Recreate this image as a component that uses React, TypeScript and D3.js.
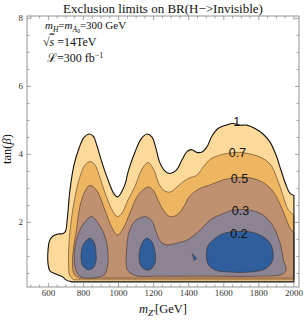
import React from "react";
import * as d3 from "d3";

const mzRange = [478, 2029];
const tanbRange = [0.1, 8.07];
const mzTicks = [600, 800, 1000, 1200, 1400, 1600, 1800, 2000];
const tanbTicks = [2, 4, 6, 8];
const mzEdge = 2000;

// BR = 1 contour, from the lower left round to the right edge
const br100 = [
  [735, 0.25], [700, 0.31], [683, 0.39], [643, 0.48], [609, 0.57], [598, 0.78], [598, 1.19],
  [606, 1.45], [626, 1.6], [655, 1.66], [683, 1.67], [698, 1.75], [706, 2.01], [723, 2.95],
  [746, 3.69], [775, 4.19], [803, 4.5], [832, 4.6], [857, 4.53], [877, 4.25], [906, 3.75],
  [940, 3.25], [974, 2.84], [994, 2.75], [1017, 2.89], [1043, 3.22], [1048, 3.36], [1065, 3.66],
  [1094, 4.07], [1128, 4.45], [1162, 4.6], [1191, 4.51], [1214, 4.16], [1236, 3.75], [1265, 3.51],
  [1293, 3.44], [1328, 3.53], [1362, 3.84], [1390, 4.08], [1416, 4.14], [1447, 4.06], [1476, 4.07],
  [1504, 4.22], [1533, 4.54], [1567, 4.76], [1613, 4.86], [1653, 4.91], [1693, 4.86], [1732, 4.86],
  [1778, 4.76], [1824, 4.6], [1864, 4.36], [1898, 3.98], [1926, 3.54], [1955, 3.1], [1977, 2.86],
  [2000, 2.79],
];
const br100Floor = 0.25;

const br070 = [
  [746, 0.31], [723, 0.42], [715, 0.75], [717, 1.34], [729, 2.01], [752, 2.75], [780, 3.34],
  [809, 3.69], [837, 3.79], [866, 3.69], [894, 3.31], [931, 2.76], [968, 2.32], [994, 2.17],
  [1020, 2.28], [1054, 2.66], [1094, 3.06], [1134, 3.57], [1168, 3.76], [1202, 3.54], [1228, 3.16],
  [1256, 2.95], [1293, 2.89], [1333, 3.04], [1370, 3.2], [1407, 3.31], [1447, 3.39], [1484, 3.64],
  [1521, 3.85], [1578, 3.98], [1636, 4.04], [1693, 4.06], [1750, 4.01], [1807, 3.92], [1864, 3.72],
  [1903, 3.31], [1938, 2.78], [1966, 2.39], [2000, 2.2],
];
const br070Floor = 0.31;

const br050 = [
  [775, 0.36], [746, 0.48], [737, 0.84], [746, 1.34], [760, 1.78], [780, 2.48], [809, 2.92],
  [837, 3.09], [874, 2.95], [923, 2.36], [963, 1.84], [994, 1.63], [1028, 1.84], [1065, 2.28],
  [1105, 2.75], [1145, 2.98], [1174, 3.04], [1202, 2.92], [1225, 2.66], [1256, 2.36], [1293, 2.17],
  [1333, 2.22], [1370, 2.45], [1407, 2.78], [1464, 3.0], [1521, 3.1], [1596, 3.25], [1673, 3.32],
  [1750, 3.31], [1818, 3.19], [1875, 2.95], [1915, 2.6], [1949, 2.19], [1977, 1.84], [2000, 1.69],
];
const br050Floor = 0.36;

// BR = 0.3, two closed islands
const br030a = [
  [847, 2.17], [885, 1.97], [923, 1.58], [940, 1.09], [937, 0.7], [917, 0.45], [837, 0.36],
  [780, 0.41], [752, 0.7], [752, 1.29], [780, 1.78], [809, 2.02],
];
const br030b = [
  [1051, 0.6], [1046, 1.19], [1060, 1.72], [1094, 2.04], [1151, 2.17], [1191, 2.04], [1214, 1.72],
  [1242, 1.42], [1276, 1.34], [1333, 1.39], [1390, 1.48], [1447, 1.69], [1487, 1.89], [1527, 2.09],
  [1584, 2.23], [1653, 2.36], [1750, 2.36], [1824, 2.22], [1881, 1.89], [1921, 1.39], [1941, 0.89],
  [1955, 0.6], [1932, 0.47], [1807, 0.42], [1464, 0.42], [1236, 0.42], [1094, 0.44],
];

// BR = 0.2 islands
const br020a = [
  [837, 1.54], [860, 1.42], [871, 1.13], [871, 0.84], [854, 0.66], [826, 0.61], [797, 0.72],
  [786, 0.95], [794, 1.28], [814, 1.45],
];
const br020b = [
  [1162, 1.54], [1191, 1.42], [1208, 1.13], [1208, 0.81], [1185, 0.63], [1157, 0.6], [1128, 0.72],
  [1117, 0.98], [1128, 1.31], [1145, 1.48],
];
const br020c = [
  [1539, 1.48], [1590, 1.66], [1664, 1.73], [1750, 1.72], [1818, 1.6], [1864, 1.39], [1881, 1.13],
  [1875, 0.84], [1835, 0.63], [1750, 0.54], [1636, 0.54], [1550, 0.6], [1510, 0.78], [1501, 1.07],
  [1510, 1.31],
];
const br020d = [[1419, 1.09], [1447, 0.94], [1430, 0.88]];

const contourLabels = [
  { text: "1", mz: 1674, tanb: 4.96 },
  { text: "0.7", mz: 1678, tanb: 4.04 },
  { text: "0.5", mz: 1690, tanb: 3.28 },
  { text: "0.3", mz: 1695, tanb: 2.34 },
  { text: "0.2", mz: 1687, tanb: 1.67 },
];

const W = 306;
const H = 320;
const fr = { l: 27, r: 299, t: 16, b: 287 };

const x = d3.scaleLinear().domain(mzRange).range([fr.l, fr.r]);
const y = d3.scaleLinear().domain(tanbRange).range([fr.b, fr.t]);

const openLine = d3
  .line<number[]>()
  .x((d) => x(d[0]))
  .y((d) => y(d[1]))
  .curve(d3.curveCatmullRom.alpha(0.5));
const closedLine = d3
  .line<number[]>()
  .x((d) => x(d[0]))
  .y((d) => y(d[1]))
  .curve(d3.curveCatmullRomClosed.alpha(0.5));
const polyLine = d3
  .line<number[]>()
  .x((d) => x(d[0]))
  .y((d) => y(d[1]))
  .curve(d3.curveLinearClosed);

const band = (pts: number[][], floor: number) =>
  openLine(pts) + `L${x(mzEdge)},${y(floor)}Z`;

const inner = "rgba(60,40,30,0.6)";
const serif = "'Liberation Serif', 'Times New Roman', serif";

const App = () => {
  const xMinor = d3.range(500, 2030, 50).filter((v) => !mzTicks.includes(v));
  const yMinor = d3.range(0.5, 8.01, 0.5).filter((v) => !tanbTicks.includes(v));
  const tickColor = "#8a8a8a";

  return (
    <svg
      width={W}
      height={H}
      style={{ position: "absolute", left: 0, top: 0, background: "#fff" }}
    >
      <text x={163} y={13} textAnchor="middle" fontFamily={serif} fontSize={13} fill="#111">
        Exclusion limits on BR(H−&gt;Invisible)
      </text>

      {/* filled contour bands */}
      <path d={band(br100, br100Floor)} fill="#fdd99a" stroke="none" />
      <path d={band(br070, br070Floor)} fill="#efb662" stroke={inner} strokeWidth={0.9} />
      <path d={band(br050, br050Floor)} fill="#bf9170" stroke={inner} strokeWidth={0.9} />
      {[br030a, br030b].map((p, i) => (
        <path key={"g" + i} d={closedLine(p)!} fill="#8c8393" stroke={inner} strokeWidth={0.9} />
      ))}
      {[br020a, br020b, br020c].map((p, i) => (
        <path key={"b" + i} d={closedLine(p)!} fill="#2e5e9b" stroke={inner} strokeWidth={0.9} />
      ))}
      <path d={polyLine(br020d)!} fill="#2e5e9b" stroke={inner} strokeWidth={0.6} />
      <path d={band(br100, br100Floor)} fill="none" stroke="#111" strokeWidth={1.1} />

      {contourLabels.map((c) => (
        <text
          key={c.text}
          x={x(c.mz)}
          y={y(c.tanb)}
          textAnchor="middle"
          dominantBaseline="central"
          fontFamily="'Liberation Sans', Arial, sans-serif"
          fontSize={12.5}
          fill="#111"
        >
          {c.text}
        </text>
      ))}

      {/* frame and ticks */}
      <rect
        x={fr.l}
        y={fr.t}
        width={fr.r - fr.l}
        height={fr.b - fr.t}
        fill="none"
        stroke={tickColor}
        strokeWidth={0.9}
      />
      <g stroke={tickColor} strokeWidth={0.8}>
        {mzTicks.map((v) => (
          <g key={"xt" + v}>
            <line x1={x(v)} x2={x(v)} y1={fr.b} y2={fr.b - 4} />
            <line x1={x(v)} x2={x(v)} y1={fr.t} y2={fr.t + 4} />
          </g>
        ))}
        {xMinor.map((v) => (
          <g key={"xm" + v}>
            <line x1={x(v)} x2={x(v)} y1={fr.b} y2={fr.b - 2.5} />
            <line x1={x(v)} x2={x(v)} y1={fr.t} y2={fr.t + 2.5} />
          </g>
        ))}
        {tanbTicks.map((v) => (
          <g key={"yt" + v}>
            <line x1={fr.l} x2={fr.l + 4} y1={y(v)} y2={y(v)} />
            <line x1={fr.r} x2={fr.r - 4} y1={y(v)} y2={y(v)} />
          </g>
        ))}
        {yMinor.map((v) => (
          <g key={"ym" + v}>
            <line x1={fr.l} x2={fr.l + 2.5} y1={y(v)} y2={y(v)} />
            <line x1={fr.r} x2={fr.r - 2.5} y1={y(v)} y2={y(v)} />
          </g>
        ))}
      </g>
      {mzTicks.map((v) => (
        <text key={"xl" + v} x={x(v)} y={296} textAnchor="middle" fontFamily={serif} fontSize={9} fill="#333">
          {v}
        </text>
      ))}
      {tanbTicks.map((v) => (
        <text
          key={"yl" + v}
          x={23}
          y={y(v)}
          textAnchor="end"
          dominantBaseline="central"
          fontFamily={serif}
          fontSize={9}
          fill="#333"
        >
          {v}
        </text>
      ))}

      {/* axis titles */}
      <text x={163} y={313} textAnchor="middle" fontFamily={serif} fontSize={12.5} fill="#111">
        <tspan fontStyle="italic">m</tspan>
        <tspan fontSize={9} dy={3} fontStyle="italic">Z′</tspan>
        <tspan dy={-3}>[GeV]</tspan>
      </text>
      <text
        transform="translate(11,149) rotate(-90)"
        textAnchor="middle"
        fontFamily={serif}
        fontSize={12.5}
        fill="#111"
      >
        tan(<tspan fontStyle="italic">β</tspan>)
      </text>

      {/* annotations */}
      <g fontFamily={serif} fontSize={11} fill="#111">
        <text x={45} y={29}>
          <tspan fontStyle="italic">m</tspan>
          <tspan fontSize={7.5} dy={2.5} fontStyle="italic">H</tspan>
          <tspan dy={-2.5}>=</tspan>
          <tspan fontStyle="italic">m</tspan>
          <tspan fontSize={7.5} dy={2.5} fontStyle="italic">A</tspan>
          <tspan fontSize={5.5} dy={1.5}>0</tspan>
          <tspan dy={-4}>=300 GeV</tspan>
        </text>
        <text x={43} y={45.5} fontSize={12}>
          √<tspan fontStyle="italic" style={{ textDecoration: "overline" }}>s</tspan> =14TeV
        </text>
        <text x={47} y={62} fontSize={12}>
          ℒ=300 fb<tspan fontSize={8} dy={-4}>−1</tspan>
        </text>
      </g>
    </svg>
  );
};

export default App;
